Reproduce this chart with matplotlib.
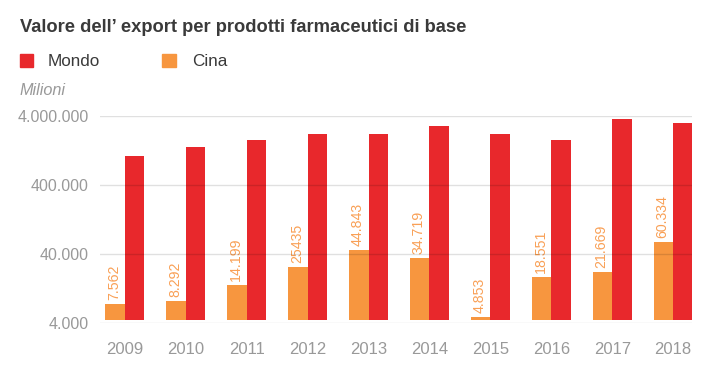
import matplotlib
matplotlib.use("Agg")
import matplotlib.pyplot as plt
from matplotlib.patches import Rectangle

years = ["2009", "2010", "2011", "2012", "2013", "2014", "2015", "2016", "2017", "2018"]
mondo = [1050000, 1420000, 1790000, 2190000, 2190000, 2860000, 2190000, 1790000, 3620000, 3160000]
cina = [7562, 8292, 14199, 25435, 44843, 34719, 4853, 18551, 21669, 60334]
cina_labels = ["7.562", "8.292", "14.199", "25435", "44.843", "34.719", "4.853", "18.551", "21.669", "60.334"]
yticks = [4000, 40000, 400000, 4000000]
ytick_labels = ["4.000", "40.000", "400.000", "4.000.000"]

RED = "#e8282c"
ORANGE = "#f7963f"
GRAY = "#999999"
DARK = "#3a3a3a"

plt.rcParams["font.family"] = ["Liberation Sans", "DejaVu Sans"]

W, H = 722, 372
fig = plt.figure(figsize=(W / 100, H / 100), dpi=100)

def fx(px):
    return px / W

def fy(py):
    return 1 - py / H

ax_left, ax_right, ax_top, ax_bot = 100, 692, 116, 322.7
ax = fig.add_axes([fx(ax_left), fy(ax_bot), (ax_right - ax_left) / W, (ax_bot - ax_top) / H])
ax.set_yscale("log")
ax.set_ylim(4000, 4000000)
ax.set_xlim(-0.41, 9.31)

base = 4380
w = 0.32
x = list(range(len(years)))
ax.bar([i - w / 2 for i in x], [v - base for v in cina], bottom=base, width=w, color=ORANGE, zorder=2, linewidth=0)
ax.bar([i + w / 2 for i in x], [v - base for v in mondo], bottom=base, width=w, color=RED, zorder=2, linewidth=0)

for i, (v, lab) in enumerate(zip(cina, cina_labels)):
    ax.annotate(lab, xy=(i - w / 2, v), xytext=(-1, 4), textcoords="offset pixels",
                rotation=90, ha="center", va="bottom", fontsize=10.2, color="#f9a056")

for t in yticks:
    ax.axhline(t, color="black", alpha=0.12, linewidth=1, zorder=3)

for s in ax.spines.values():
    s.set_visible(False)
ax.set_yticks(yticks)
ax.set_yticklabels(ytick_labels)
ax.minorticks_off()
ax.tick_params(axis="y", length=0, pad=8, labelsize=11.5, labelcolor=GRAY)
ax.set_xticks(x)
ax.set_xticklabels(years)
ax.tick_params(axis="x", length=0, pad=14, labelsize=12, labelcolor=GRAY)

fig.text(fx(20), fy(32), "Valore dell\u2019 export per prodotti farmaceutici di base",
         fontsize=13.2, fontweight="bold", color=DARK, ha="left", va="baseline")

fig.patches.append(Rectangle((fx(19.5), fy(67)), 13.5 / W, 13 / H, transform=fig.transFigure,
                             color=RED, figure=fig))
fig.text(fx(48), fy(66), "Mondo", fontsize=12.3, color=DARK, ha="left", va="baseline")
fig.patches.append(Rectangle((fx(162), fy(67)), 13.5 / W, 13 / H, transform=fig.transFigure,
                             color=ORANGE, figure=fig))
fig.text(fx(192), fy(66), "Cina", fontsize=12.3, color=DARK, ha="left", va="baseline")

fig.text(fx(20), fy(95), "Milioni", fontsize=11.7, style="italic", color=GRAY, ha="left", va="baseline")

fig.savefig("out.png", dpi=100)
